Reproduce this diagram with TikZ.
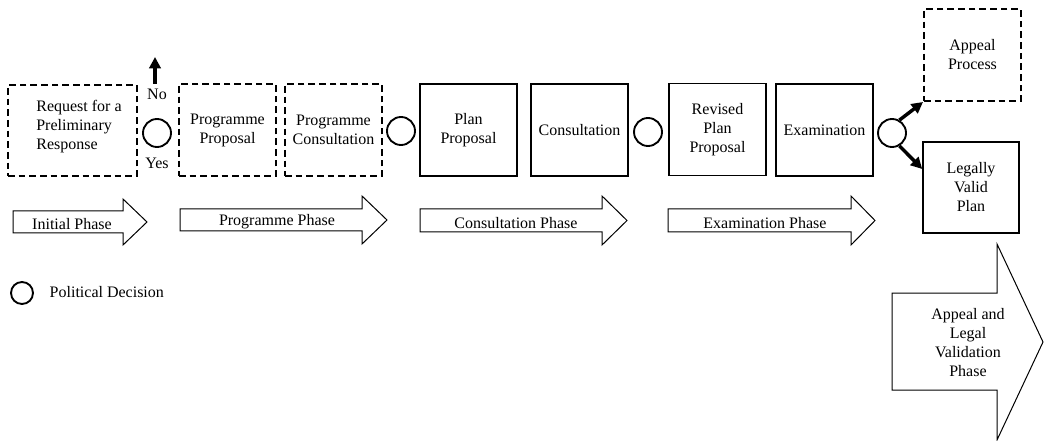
\documentclass[tikz,border=0pt]{standalone}
\usepackage{fontspec}
\setmainfont{Liberation Serif}
\usetikzlibrary{arrows.meta,calc}
\begin{document}
\begin{tikzpicture}[x=0.75pt,y=-0.75pt,
  every node/.style={font=\fontsize{12}{14.25}\selectfont},
  solidbox/.style={draw,line width=1.2pt,minimum width=72.75pt,minimum height=69pt,align=center,inner sep=0pt},
  dashbox/.style={solidbox,line width=1.5pt,dash pattern=on 5pt off 3pt},
  decision/.style={draw,circle,line width=1.4pt,minimum size=21pt,inner sep=0pt},
  phase/.style={draw,line width=0.75pt,line join=miter},
  bigarrow/.style={line width=2.6pt,-{Triangle[length=8.5pt,width=8.5pt]}},
]
\useasboundingbox (0,0) rectangle (1044,441);

% process steps
\node[dashbox,minimum width=96.75pt,minimum height=68.25pt] (req) at (72.5,130.5) {};
\node[align=left] (reqtext) at (79,127) {Request for a\\Preliminary\\Response};
\node[decision] (d1) at (157,133) {};
\node (no) at (157,94) {No};
\node (yes) at (157,163) {Yes};
\coordinate (nobase) at (155,84);
\coordinate (notip) at (155,57);
\draw[bigarrow] (nobase) -- (notip);

\node[dashbox] (progprop) at (227.5,130) {Programme\\Proposal};
\node[dashbox] (progcons) at (333.5,130) {Programme\\Consultation};
\node[decision] (d2) at (401,131) {};
\node[solidbox] (planprop) at (468.5,130) {Plan\\Proposal};
\node[solidbox] (cons) at (579.5,130) {Consultation};
\node[decision] (d3) at (648,132) {};
\node[solidbox] (revplan) at (717.5,129.5) {Revised\\Plan\\Proposal};
\node[solidbox] (exam) at (824.5,130) {Examination};
\node[decision] (d4) at (892,133) {};
\node[dashbox] (appeal) at (972.5,55) {Appeal\\Process};
\node[solidbox,minimum width=72pt,minimum height=68.25pt] (legal) at (971,187.5) {Legally\\Valid\\Plan};

\draw[bigarrow] (d4.60) -- (appeal.south west);
\draw[bigarrow] (d4.-60) -- ($(legal.north west)!0.3!(legal.south west)$);

% phase arrows
\draw[phase] (13,211) -- (123,211) -- (123,199) -- (147,222) -- (123,245) -- (123,233) -- (13,233) -- cycle;
\node (initial) at (72,224) {Initial Phase};
\draw[phase] (180,209) -- (362,209) -- (362,196) -- (387,220) -- (362,244) -- (362,231) -- (180,231) -- cycle;
\node (programme) at (277,222) {Programme Phase};
\draw[phase] (420,209) -- (602,209) -- (602,196) -- (627,220.5) -- (602,245) -- (602,232) -- (420,232) -- cycle;
\node (consphase) at (516,223) {Consultation Phase};
\draw[phase] (668,209) -- (851,209) -- (851,196) -- (875,220.5) -- (851,245) -- (851,232) -- (668,232) -- cycle;
\node (examphase) at (765,223) {Examination Phase};
\draw[phase] (892,293) -- (997,293) -- (997,244) -- (1043,342) -- (997,440) -- (997,390) -- (892,390) -- cycle;
\node[align=center] (appealphase) at (968,343) {Appeal and\\Legal\\Validation\\Phase};

% legend
\node[decision,minimum size=16.5pt] (legend) at (22,293) {};
\node[anchor=west] (legendtext) at (45,292) {Political Decision};
\end{tikzpicture}
\end{document}
